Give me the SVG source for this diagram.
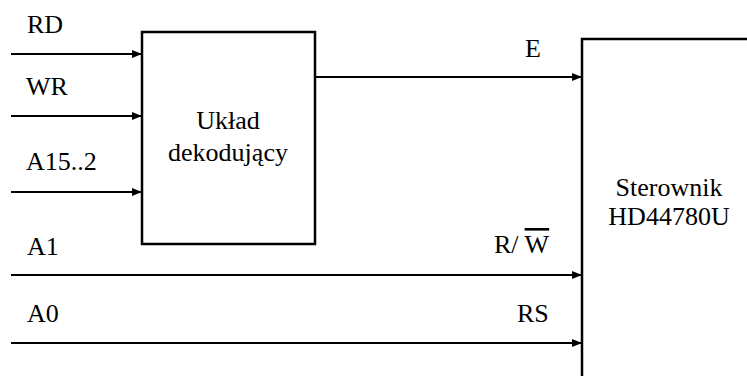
<svg xmlns="http://www.w3.org/2000/svg" width="747" height="376" viewBox="0 0 747 376">
<defs>
<marker id="ah" markerWidth="10" markerHeight="8" refX="10" refY="4" orient="auto" markerUnits="userSpaceOnUse">
<path d="M0,0 L10,4 L0,8 Z" fill="#000"/>
</marker>
<style>
text{font-size:26px;fill:#000}
.box{fill:#fff;stroke:#000;stroke-width:2.5}
.c{stroke:#000;stroke-width:2;fill:none;marker-end:url(#ah)}
.m{text-anchor:middle}
</style>
</defs>
<rect width="747" height="376" fill="#fff"/>
<g id="connectors">
<line class="c" x1="11" y1="54" x2="142" y2="54"/>
<line class="c" x1="11" y1="116" x2="142" y2="116"/>
<line class="c" x1="11" y1="192" x2="142" y2="192"/>
<line class="c" x1="315" y1="77" x2="582" y2="77"/>
<line class="c" x1="11" y1="275" x2="582" y2="275"/>
<line class="c" x1="11" y1="343" x2="582" y2="343"/>
</g>
<g id="labels" font-family="Liberation Serif, DejaVu Serif, serif">
<text x="27" y="33">RD</text>
<text x="26" y="95">WR</text>
<text x="26" y="170">A15..2</text>
<text x="525" y="57">E</text>
<text x="27" y="255">A1</text>
<text x="27" y="322">A0</text>
<text x="494" y="253">R/ <tspan text-decoration="overline">W</tspan></text>
<text x="517" y="322">RS</text>
</g>
<g id="decoder" font-family="Liberation Serif, DejaVu Serif, serif">
<rect class="box" x="142" y="32" width="173" height="212"/>
<text class="m" x="228" y="129">Układ</text>
<text class="m" x="228" y="161">dekodujący</text>
</g>
<g id="controller" font-family="Liberation Serif, DejaVu Serif, serif">
<path class="box" d="M582,380 V39 H750"/>
<text class="m" x="669" y="196">Sterownik</text>
<text class="m" x="669" y="225">HD44780U</text>
</g>
</svg>
